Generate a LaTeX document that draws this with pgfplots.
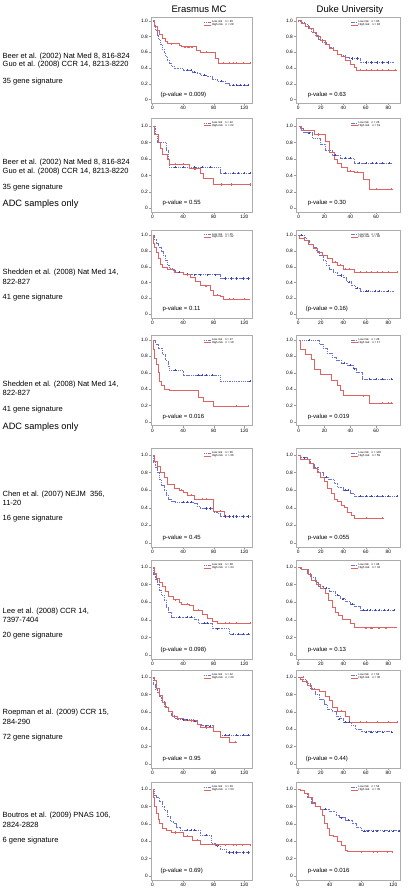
\documentclass[border=0pt]{standalone}
\usepackage{pgfplots}
\pgfplotsset{compat=1.18}
\usepackage{fontspec}
\setmainfont{Liberation Sans}
\definecolor{lowc}{RGB}{105,115,210}
\definecolor{lowmc}{RGB}{60,70,170}
\definecolor{highc}{RGB}{222,100,100}
\newcommand{\cit}{\fontsize{7.5}{8.3}\selectfont}
\newcommand{\adc}{\fontsize{9.2}{10}\selectfont}
\newcommand{\pv}{\fontsize{6}{7}\selectfont}
\pgfplotsset{
 km/.style={scale only axis, anchor=north west,
  axis line style={gray!65, line width=0.4pt},
  tick style={gray!80, line width=0.3pt}, tick align=outside, major tick length=2pt,
  xtick pos=bottom, ytick pos=left,
  ymin=-0.045, ytick={0,0.2,0.4,0.6,0.8,1}, yticklabels={0,0.2,0.4,0.6,0.8,1.0},
  /pgf/number format/assume math mode=true,
  ticklabel style={font=\fontsize{4.8}{5}\selectfont},
  xticklabel style={inner sep=1pt}, yticklabel style={inner sep=1pt},
  xmin=-2,
  legend style={at={(0.52,0.975)}, anchor=north west, draw=none, fill=none,
   font=\fontsize{2.8}{3}\selectfont, inner sep=0pt, row sep=-1.8pt,
   nodes={inner sep=0.6pt}},
  legend cell align=left,
  legend image code/.code={\draw[#1,mark=none] (0pt,0pt) -- (7pt,0pt);},
 },
 er/.style={km, width=101pt, xmax=130, xtick={0,40,80,120}},
 dA/.style={km, width=104pt, xmax=90.4, xtick={0,20,40,60,80}},
 dB/.style={km, width=104pt, xmax=78.5, xtick={0,20,40,60}},
 dC/.style={km, width=104pt, xmax=128.4, xtick={0,40,80,120}},
 lowl/.style={const plot, draw=lowc, dash pattern=on 1.1pt off 0.7pt, line width=0.65pt, mark=none},
 highl/.style={const plot, draw=highc, line width=0.7pt, mark=none},
 lowm/.style={only marks, mark=+, mark size=1.1pt, draw=lowmc, forget plot, mark options={draw=lowmc, line width=0.4pt, solid}},
 highm/.style={only marks, mark=+, mark size=1.1pt, draw=highc, forget plot, mark options={draw=highc, line width=0.4pt, solid}},
}
\begin{document}
\begin{tikzpicture}
\useasboundingbox (0,0) rectangle (408pt,-893pt);
% titles
\node[font=\fontsize{9.5}{11}\selectfont, anchor=base] at (199pt,-13pt) {Erasmus MC};
\node[font=\fontsize{9.5}{11}\selectfont, anchor=base] at (350pt,-13pt) {Duke University};
% left labels
\node[anchor=west,font=\cit,inner sep=0pt] at (2.5pt,-56.7pt) {Beer et al. (2002) Nat Med 8, 816-824};
\node[anchor=west,font=\cit,inner sep=0pt] at (2.5pt,-65pt) {Guo et al. (2008) CCR 14, 8213-8220};
\node[anchor=west,font=\cit,inner sep=0pt] at (2.5pt,-82pt) {35 gene signature};
\node[anchor=west,font=\cit,inner sep=0pt] at (2.5pt,-163pt) {Beer et al. (2002) Nat Med 8, 816-824};
\node[anchor=west,font=\cit,inner sep=0pt] at (2.5pt,-172pt) {Guo et al. (2008) CCR 14, 8213-8220};
\node[anchor=west,font=\cit,inner sep=0pt] at (2.5pt,-188pt) {35 gene signature};
\node[anchor=west,font=\adc,inner sep=0pt] at (2.5pt,-204pt) {ADC samples only};
\node[anchor=west,font=\cit,inner sep=0pt] at (2.5pt,-273pt) {Shedden et al. (2008) Nat Med 14,};
\node[anchor=west,font=\cit,inner sep=0pt] at (2.5pt,-282pt) {822-827};
\node[anchor=west,font=\cit,inner sep=0pt] at (2.5pt,-298pt) {41 gene signature};
\node[anchor=west,font=\cit,inner sep=0pt] at (2.5pt,-385pt) {Shedden et al. (2008) Nat Med 14,};
\node[anchor=west,font=\cit,inner sep=0pt] at (2.5pt,-393pt) {822-827};
\node[anchor=west,font=\cit,inner sep=0pt] at (2.5pt,-410pt) {41 gene signature};
\node[anchor=west,font=\adc,inner sep=0pt] at (2.5pt,-427pt) {ADC samples only};
\node[anchor=west,font=\cit,inner sep=0pt] at (2.5pt,-495pt) {Chen et al. (2007) NEJM\ \ 356,};
\node[anchor=west,font=\cit,inner sep=0pt] at (2.5pt,-503pt) {11-20};
\node[anchor=west,font=\cit,inner sep=0pt] at (2.5pt,-519pt) {16 gene signature};
\node[anchor=west,font=\cit,inner sep=0pt] at (2.5pt,-612pt) {Lee et al. (2008) CCR 14,};
\node[anchor=west,font=\cit,inner sep=0pt] at (2.5pt,-620pt) {7397-7404};
\node[anchor=west,font=\cit,inner sep=0pt] at (2.5pt,-636pt) {20 gene signature};
\node[anchor=west,font=\cit,inner sep=0pt] at (2.5pt,-713pt) {Roepman et al. (2009) CCR 15,};
\node[anchor=west,font=\cit,inner sep=0pt] at (2.5pt,-722pt) {284-290};
\node[anchor=west,font=\cit,inner sep=0pt] at (2.5pt,-738pt) {72 gene signature};
\node[anchor=west,font=\cit,inner sep=0pt] at (2.5pt,-816pt) {Boutros et al. (2009) PNAS 106,};
\node[anchor=west,font=\cit,inner sep=0pt] at (2.5pt,-825pt) {2824-2828};
\node[anchor=west,font=\cit,inner sep=0pt] at (2.5pt,-841pt) {6 gene signature};

% ===== Row 1 =====
\begin{axis}[er, at={(151pt,-17.7pt)}, ymax=1.04, height=85.3pt]
\addplot[lowl] coordinates {(0,1)(2,0.94)(4,0.88)(6,0.82)(8,0.76)(10,0.7)(13,0.64)(15,0.6)(17,0.55)(19,0.5)(22,0.46)(25,0.42)(28,0.39)(40,0.37)(52,0.35)(58,0.33)(63,0.31)(72,0.29)(78,0.26)(85,0.23)(95,0.2)(100,0.18)(127,0.18)};
\addlegendentry{Low risk\quad n = 49}
\addplot[highl] coordinates {(0,1)(3,0.93)(6,0.88)(9,0.83)(13,0.78)(17,0.74)(20,0.71)(35,0.69)(38,0.67)(57,0.63)(62,0.6)(82,0.52)(86,0.46)(127,0.46)};
\addlegendentry{High risk\quad n = 28}
\addplot[lowm] coordinates {(45,0.37)(50,0.37)(55,0.35)(68,0.31)(90,0.23)(105,0.18)(110,0.18)(115,0.18)(120,0.18)(125,0.18)};
\addplot[highm] coordinates {(25,0.71)(42,0.67)(47,0.67)(52,0.67)(70,0.6)(92,0.46)(100,0.46)(105,0.46)(110,0.46)(118,0.46)(127,0.46)};
\node[anchor=west,font=\pv] at (rel axis cs:0.06,0.1) {(p-value = 0.009)};
\end{axis}
\begin{axis}[dA, at={(296pt,-17.7pt)}, ymax=1.04, height=85.3pt]
\addplot[lowl] coordinates {(0,1)(3,0.98)(6,0.95)(9,0.9)(12,0.86)(15,0.82)(18,0.77)(21,0.73)(25,0.7)(28,0.66)(31,0.63)(35,0.58)(38,0.56)(42,0.54)(45,0.52)(55,0.47)(85,0.47)};
\addlegendentry{Low risk\quad n = 85}
\addplot[highl] coordinates {(0,1)(3,0.97)(6,0.93)(10,0.9)(13,0.85)(16,0.8)(20,0.75)(24,0.7)(28,0.65)(31,0.62)(35,0.57)(38,0.55)(42,0.5)(46,0.45)(50,0.41)(52,0.37)(88,0.37)};
\addlegendentry{High risk\quad n = 84}
\addplot[lowm] coordinates {(48,0.52)(52,0.52)(60,0.47)(65,0.47)(70,0.47)(75,0.47)(80,0.47)};
\addplot[highm] coordinates {(55,0.37)(60,0.37)(65,0.37)(70,0.37)(75,0.37)(80,0.37)(86,0.37)};
\node[anchor=west,font=\pv] at (rel axis cs:0.08,0.1) {p-value = 0.63};
\end{axis}

% ===== Row 2 =====
\begin{axis}[er, at={(151pt,-118pt)}, ymax=1.1, height=93.9pt]
\addplot[lowl] coordinates {(0,1)(3,0.9)(6,0.8)(18,0.7)(20,0.6)(22,0.5)(88,0.43)(127,0.43)};
\addlegendentry{Low risk\quad n = 22}
\addplot[highl] coordinates {(0,1)(3,0.9)(8,0.8)(10,0.73)(13,0.66)(20,0.6)(22,0.54)(48,0.48)(62,0.42)(66,0.36)(79,0.29)(127,0.29)};
\addlegendentry{High risk\quad n = 22}
\addplot[lowm] coordinates {(30,0.5)(40,0.5)(55,0.5)(65,0.5)(75,0.5)(95,0.43)(105,0.43)(112,0.43)(120,0.43)(127,0.43)};
\addplot[highm] coordinates {(30,0.54)(40,0.54)(55,0.48)(90,0.29)(103,0.29)(127,0.29)};
\node[anchor=west,font=\pv] at (rel axis cs:0.08,0.1) {p-value = 0.55};
\end{axis}
\begin{axis}[dB, at={(296pt,-118pt)}, ymax=1.1, height=93.9pt]
\addplot[lowl] coordinates {(0,1)(1,0.97)(4,0.92)(11,0.85)(17,0.78)(21,0.7)(26,0.65)(32,0.61)(43,0.55)(72,0.55)};
\addlegendentry{Low risk\quad n = 26}
\addplot[highl] coordinates {(0,1)(2,0.95)(12,0.9)(21,0.82)(24,0.68)(28,0.6)(30,0.55)(33,0.5)(38,0.45)(43,0.44)(50,0.35)(55,0.23)(72,0.23)};
\addlegendentry{High risk\quad n = 19}
\addplot[lowm] coordinates {(8,0.92)(28,0.65)(36,0.61)(40,0.61)(47,0.55)(52,0.55)(57,0.55)(60,0.55)(65,0.55)(70,0.55)};
\addplot[highm] coordinates {(15,0.9)(40,0.45)(45,0.44)(60,0.23)(72,0.23)};
\node[anchor=west,font=\pv] at (rel axis cs:0.08,0.1) {p-value = 0.30};
\end{axis}

% ===== Row 3 =====
\begin{axis}[er, at={(151pt,-230pt)}, ymax=1.065, height=87.7pt]
\addplot[lowl] coordinates {(0,1)(2,0.95)(5,0.9)(8,0.85)(11,0.8)(14,0.75)(17,0.68)(19,0.62)(22,0.58)(26,0.55)(30,0.53)(40,0.51)(48,0.5)(88,0.45)(127,0.45)};
\addlegendentry{Low risk\quad n = 45}
\addplot[highl] coordinates {(0,1)(1,0.9)(3,0.84)(5,0.78)(7,0.7)(10,0.63)(13,0.59)(20,0.57)(28,0.53)(40,0.5)(50,0.47)(56,0.42)(63,0.36)(75,0.3)(80,0.24)(88,0.22)(92,0.19)(127,0.19)};
\addlegendentry{High risk\quad n = 32}
\addplot[lowm] coordinates {(35,0.53)(45,0.51)(55,0.5)(62,0.5)(72,0.5)(82,0.5)(95,0.45)(103,0.45)(110,0.45)(118,0.45)(125,0.45)};
\addplot[highm] coordinates {(45,0.5)(70,0.36)(85,0.24)(100,0.19)(105,0.19)(120,0.19)};
\node[anchor=west,font=\pv] at (rel axis cs:0.08,0.1) {p-value = 0.11};
\end{axis}
\begin{axis}[dA, at={(296pt,-230pt)}, ymax=1.065, height=87.7pt]
\addplot[lowl] coordinates {(0,1)(5,0.97)(7,0.93)(10,0.88)(13,0.84)(16,0.8)(19,0.74)(22,0.68)(25,0.62)(28,0.57)(31,0.53)(35,0.49)(40,0.46)(43,0.41)(47,0.36)(51,0.33)(55,0.29)(85,0.29)};
\addlegendentry{Low risk\quad n = 83}
\addplot[highl] coordinates {(0,1)(1,0.96)(5,0.93)(9,0.88)(13,0.83)(17,0.78)(21,0.75)(26,0.7)(30,0.66)(35,0.62)(40,0.57)(50,0.53)(88,0.53)};
\addlegendentry{High risk\quad n = 86}
\addplot[lowm] coordinates {(3,1)(38,0.49)(45,0.41)(52,0.33)(60,0.29)(62,0.29)(68,0.29)(72,0.29)(80,0.29)};
\addplot[highm] coordinates {(33,0.66)(37,0.62)(42,0.57)(45,0.57)(55,0.53)(60,0.53)(65,0.53)(70,0.53)(75,0.53)(80,0.53)(88,0.53)};
\node[anchor=west,font=\pv] at (rel axis cs:0.06,0.1) {(p-value = 0.16)};
\end{axis}

% ===== Row 4 =====
\begin{axis}[er, at={(151pt,-335pt)}, ymax=1.06, height=90.6pt]
\addplot[lowl] coordinates {(0,1)(4,0.95)(7,0.9)(13,0.82)(17,0.75)(20,0.68)(22,0.63)(40,0.57)(88,0.5)(127,0.5)};
\addlegendentry{Low risk\quad n = 27}
\addplot[highl] coordinates {(0,1)(1,0.88)(3,0.78)(5,0.7)(7,0.6)(9,0.5)(12,0.45)(16,0.4)(22,0.38)(60,0.3)(66,0.25)(80,0.19)(125,0.19)};
\addlegendentry{High risk\quad n = 18}
\addplot[lowm] coordinates {(30,0.63)(60,0.57)(65,0.57)(70,0.57)(78,0.57)(127,0.5)};
\addplot[highm] coordinates {(110,0.19)(125,0.19)};
\node[anchor=west,font=\pv] at (rel axis cs:0.08,0.1) {p-value = 0.016};
\end{axis}
\begin{axis}[dB, at={(296pt,-335pt)}, ymax=1.06, height=90.6pt]
\addplot[lowl] coordinates {(0,1)(16,0.95)(19,0.9)(22,0.84)(26,0.79)(29,0.75)(33,0.72)(38,0.69)(42,0.65)(45,0.6)(49,0.52)(72,0.52)};
\addlegendentry{Low risk\quad n = 28}
\addplot[highl] coordinates {(0,1)(1,0.88)(5,0.82)(10,0.76)(12,0.64)(17,0.58)(25,0.51)(30,0.45)(32,0.38)(35,0.32)(55,0.23)(72,0.23)};
\addlegendentry{High risk\quad n = 17}
\addplot[lowm] coordinates {(8,1)(35,0.72)(40,0.69)(43,0.65)(55,0.52)(60,0.52)(65,0.52)(72,0.52)};
\addplot[highm] coordinates {(50,0.32)(65,0.23)(69,0.23)(72,0.23)};
\node[anchor=west,font=\pv] at (rel axis cs:0.08,0.1) {p-value = 0.019};
\end{axis}

% ===== Row 5 =====
\begin{axis}[er, at={(151pt,-448pt)}, ymax=1.08, height=98.7pt]
\addplot[lowl] coordinates {(0,1)(1,0.92)(3,0.86)(6,0.8)(9,0.72)(12,0.65)(15,0.6)(18,0.54)(21,0.5)(25,0.47)(30,0.46)(55,0.45)(58,0.42)(62,0.39)(80,0.35)(85,0.33)(88,0.3)(127,0.3)};
\addlegendentry{Low risk\quad n = 36}
\addplot[highl] coordinates {(0,1)(3,0.93)(6,0.87)(10,0.8)(15,0.74)(20,0.67)(28,0.62)(35,0.6)(40,0.57)(45,0.54)(55,0.5)(80,0.36)(94,0.3)(98,0.3)};
\addlegendentry{High risk\quad n = 36}
\addplot[lowm] coordinates {(40,0.46)(45,0.46)(50,0.46)(70,0.39)(75,0.39)(95,0.3)(100,0.3)(105,0.3)(110,0.3)(118,0.3)(125,0.3)};
\addplot[highm] coordinates {(38,0.6)(50,0.54)(65,0.5)(70,0.5)(88,0.36)};
\node[anchor=west,font=\pv] at (rel axis cs:0.08,0.09) {p-value = 0.45};
\end{axis}
\begin{axis}[dA, at={(296pt,-448pt)}, ymax=1.08, height=98.7pt]
\addplot[lowl] coordinates {(0,1)(2,0.97)(8,0.95)(11,0.9)(14,0.86)(18,0.8)(22,0.75)(27,0.72)(32,0.68)(35,0.63)(40,0.6)(46,0.56)(50,0.53)(88,0.53)};
\addlegendentry{Low risk\quad n = 100}
\addplot[highl] coordinates {(0,1)(2,0.95)(10,0.9)(13,0.85)(17,0.8)(20,0.75)(23,0.7)(26,0.62)(29,0.56)(32,0.5)(35,0.47)(38,0.43)(41,0.4)(44,0.35)(47,0.31)(50,0.28)(75,0.28)};
\addlegendentry{High risk\quad n = 69}
\addplot[lowm] coordinates {(5,0.97)(25,0.75)(42,0.6)(44,0.6)(55,0.53)(60,0.53)(65,0.53)(70,0.53)(75,0.53)(80,0.53)(88,0.53)};
\addplot[highm] coordinates {(60,0.28)(75,0.28)};
\node[anchor=west,font=\pv] at (rel axis cs:0.08,0.09) {p-value = 0.055};
\end{axis}

% ===== Row 6 =====
\begin{axis}[er, at={(151pt,-560pt)}, ymax=1.08, height=99pt]
\addplot[lowl] coordinates {(0,1)(1,0.92)(3,0.86)(6,0.8)(9,0.74)(12,0.68)(15,0.62)(18,0.54)(21,0.48)(25,0.43)(55,0.41)(60,0.36)(78,0.3)(100,0.24)(127,0.24)};
\addlegendentry{Low risk\quad n = 38}
\addplot[highl] coordinates {(0,1)(2,0.93)(5,0.87)(9,0.83)(13,0.78)(17,0.72)(21,0.67)(27,0.63)(35,0.6)(38,0.58)(48,0.56)(53,0.51)(65,0.46)(72,0.42)(78,0.38)(85,0.36)(127,0.36)};
\addlegendentry{High risk\quad n = 44}
\addplot[lowm] coordinates {(35,0.43)(45,0.43)(50,0.43)(68,0.36)(72,0.36)(85,0.3)(105,0.24)(112,0.24)(118,0.24)(125,0.24)};
\addplot[highm] coordinates {(30,0.63)(45,0.58)(60,0.51)(95,0.36)(100,0.36)(110,0.36)(127,0.36)};
\node[anchor=west,font=\pv] at (rel axis cs:0.06,0.09) {(p-value = 0.098)};
\end{axis}
\begin{axis}[dA, at={(296pt,-560pt)}, ymax=1.08, height=99pt]
\addplot[lowl] coordinates {(0,1)(2,0.97)(8,0.93)(11,0.88)(15,0.83)(18,0.78)(22,0.76)(28,0.72)(33,0.68)(37,0.64)(42,0.61)(46,0.58)(50,0.55)(55,0.51)(85,0.51)};
\addlegendentry{Low risk\quad n = 96}
\addplot[highl] coordinates {(0,1)(3,0.97)(9,0.92)(12,0.85)(16,0.8)(20,0.76)(24,0.7)(27,0.62)(30,0.54)(33,0.48)(36,0.45)(39,0.41)(46,0.36)(50,0.31)(88,0.31)};
\addlegendentry{High risk\quad n = 43}
\addplot[lowm] coordinates {(25,0.76)(35,0.68)(40,0.64)(48,0.58)(58,0.51)(61,0.51)(64,0.51)(68,0.51)(72,0.51)(76,0.51)(80,0.51)(85,0.51)};
\addplot[highm] coordinates {(60,0.31)(65,0.31)(72,0.31)(78,0.31)};
\node[anchor=west,font=\pv] at (rel axis cs:0.08,0.09) {p-value = 0.13};
\end{axis}

% ===== Row 7 =====
\begin{axis}[er, at={(151pt,-670pt)}, ymax=1.08, height=97.9pt]
\addplot[lowl] coordinates {(0,1)(1,0.92)(3,0.86)(6,0.82)(9,0.78)(12,0.72)(16,0.66)(20,0.61)(24,0.56)(28,0.53)(32,0.51)(50,0.49)(58,0.46)(64,0.44)(80,0.37)(88,0.33)(127,0.33)};
\addlegendentry{Low risk\quad n = 42}
\addplot[highl] coordinates {(0,1)(2,0.96)(5,0.87)(9,0.79)(13,0.71)(17,0.65)(21,0.6)(26,0.55)(32,0.52)(40,0.5)(58,0.46)(62,0.42)(80,0.37)(88,0.31)(100,0.25)(110,0.25)};
\addlegendentry{High risk\quad n = 40}
\addplot[lowm] coordinates {(40,0.51)(45,0.51)(55,0.49)(70,0.44)(75,0.44)(95,0.33)(100,0.33)(110,0.33)(118,0.33)(125,0.33)};
\addplot[highm] coordinates {(50,0.5)(53,0.5)(70,0.42)(108,0.25)};
\node[anchor=west,font=\pv] at (rel axis cs:0.08,0.09) {p-value = 0.95};
\end{axis}
\begin{axis}[dA, at={(296pt,-670pt)}, ymax=1.08, height=97.9pt]
\addplot[lowl] coordinates {(0,1)(3,0.97)(7,0.93)(11,0.87)(15,0.8)(19,0.74)(23,0.68)(26,0.63)(30,0.6)(34,0.55)(37,0.52)(40,0.48)(47,0.45)(51,0.4)(56,0.37)(83,0.37)};
\addlegendentry{Low risk\quad n = 53}
\addplot[highl] coordinates {(0,1)(2,0.97)(4,0.95)(8,0.9)(12,0.86)(19,0.83)(24,0.78)(28,0.73)(30,0.65)(35,0.61)(42,0.55)(45,0.48)(88,0.48)};
\addlegendentry{High risk\quad n = 36}
\addplot[lowm] coordinates {(36,0.52)(42,0.48)(45,0.48)(60,0.37)(65,0.37)(70,0.37)(75,0.37)(83,0.37)};
\addplot[highm] coordinates {(4,1)(38,0.61)(55,0.48)(60,0.48)(70,0.48)(80,0.48)(88,0.48)};
\node[anchor=west,font=\pv] at (rel axis cs:0.06,0.09) {(p-value = 0.44)};
\end{axis}

% ===== Row 8 =====
\begin{axis}[er, at={(151pt,-782pt)}, ymax=1.08, height=97.9pt]
\addplot[lowl] coordinates {(0,1)(2,0.93)(5,0.9)(9,0.86)(13,0.8)(16,0.75)(19,0.68)(23,0.63)(27,0.6)(31,0.56)(36,0.53)(62,0.47)(77,0.38)(82,0.35)(88,0.31)(96,0.27)(127,0.27)};
\addlegendentry{Low risk\quad n = 49}
\addplot[highl] coordinates {(0,1)(1,0.9)(3,0.8)(5,0.72)(7,0.65)(9,0.6)(13,0.55)(18,0.52)(25,0.5)(40,0.46)(52,0.41)(63,0.36)(127,0.36)};
\addlegendentry{High risk\quad n = 33}
\addplot[lowm] coordinates {(45,0.53)(50,0.53)(55,0.53)(70,0.47)(85,0.35)(100,0.27)(105,0.27)(110,0.27)(118,0.27)(125,0.27)};
\addplot[highm] coordinates {(30,0.5)(45,0.46)(58,0.41)(85,0.36)(95,0.36)(105,0.36)(110,0.36)(117,0.36)(127,0.36)};
\node[anchor=west,font=\pv] at (rel axis cs:0.06,0.09) {(p-value = 0.69)};
\end{axis}
\begin{axis}[dC, at={(296pt,-782pt)}, ymax=1.08, height=97.9pt]
\addplot[lowl] coordinates {(0,1)(4,0.98)(8,0.95)(12,0.9)(17,0.84)(22,0.8)(28,0.77)(40,0.74)(48,0.7)(52,0.67)(60,0.64)(68,0.6)(74,0.56)(80,0.52)(127,0.52)};
\addlegendentry{Low risk\quad n = 54}
\addplot[highl] coordinates {(0,1)(3,0.98)(8,0.95)(13,0.9)(18,0.85)(22,0.8)(28,0.77)(31,0.7)(34,0.6)(37,0.55)(40,0.47)(45,0.45)(50,0.4)(55,0.35)(60,0.3)(63,0.28)(118,0.28)};
\addlegendentry{High risk\quad n = 35}
\addplot[lowm] coordinates {(35,0.77)(55,0.67)(64,0.64)(84,0.52)(88,0.52)(95,0.52)(100,0.52)(108,0.52)(115,0.52)(120,0.52)(127,0.52)};
\addplot[highm] coordinates {(80,0.28)(95,0.28)(100,0.28)(112,0.28)(118,0.28)};
\node[anchor=west,font=\pv] at (rel axis cs:0.08,0.09) {p-value = 0.016};
\end{axis}
\end{tikzpicture}
\end{document}
